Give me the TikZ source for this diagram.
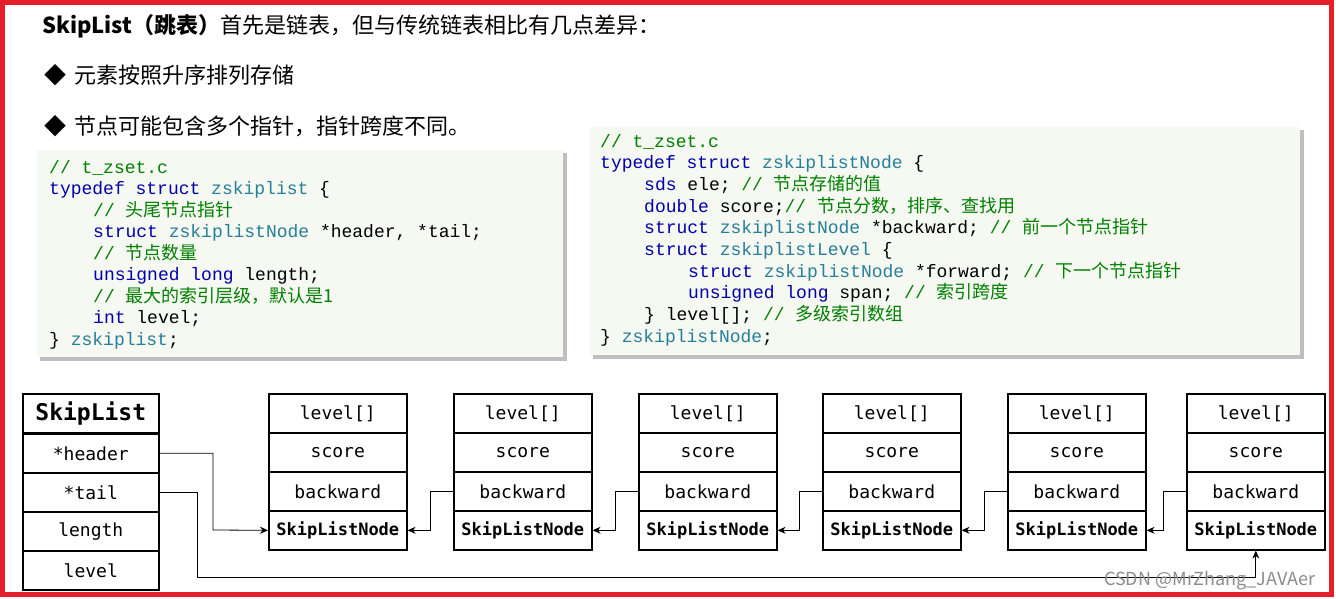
\documentclass[tikz,border=0pt]{standalone}
\usepackage{fontspec}
\usetikzlibrary{arrows.meta}
\setmainfont{Noto Sans CJK SC}
\newfontfamily\cjk{Noto Sans CJK SC}
\newfontfamily\mono{Liberation Mono}
\newfontfamily\boxmono{DejaVu Sans Mono}
\definecolor{kw}{RGB}{0,0,170}
\definecolor{ty}{RGB}{38,127,153}
\definecolor{cm}{RGB}{0,128,0}
\definecolor{codebg}{RGB}{246,248,242}
\definecolor{frame}{RGB}{230,30,40}
\newcommand\Kw[1]{\textcolor{kw}{#1}}
\newcommand\Ty[1]{\textcolor{ty}{#1}}
\newcommand\Cm[2]{\textcolor{cm}{#1{\cjk #2}}}
\begin{document}
\begin{tikzpicture}[x=1pt,y=-1pt,
  code/.style={anchor=base west,inner sep=0pt,font=\mono\fontsize{18}{20}\selectfont},
  cell/.style={draw,line width=1.6pt,minimum width=138pt,minimum height=39pt,inner sep=0pt,anchor=north west,font=\boxmono\fontsize{18}{20}\selectfont},
  link/.style={line width=0.8pt,-{Stealth[length=8pt,width=7pt]}}]
\useasboundingbox (0,0) rectangle (1336,598);
\fill[white] (0,0) rectangle (1336,598);
% header text
\node[anchor=base west,inner sep=0pt,font=\fontsize{22}{24}\selectfont] (title) at (42,33) {\textbf{SkipList（跳表）}首先是链表，但与传统链表相比有几点差异：};
\node[anchor=base west,inner sep=0pt,font=\fontsize{22}{24}\selectfont] (b1) at (44,83) {◆\hspace{8pt}元素按照升序排列存储};
\node[anchor=base west,inner sep=0pt,font=\fontsize{22}{24}\selectfont] (b2) at (44,134) {◆\hspace{8pt}节点可能包含多个指针，指针跨度不同。};
% code box 1
\fill[black!25] (40,153) rectangle (567,361);
\fill[codebg] (37,150) rectangle (563,357);
\node[code] (c1a) at (49,173) {\textcolor{cm}{// t\_zset.c}};
\node[code] (c1b) at (49,194.5) {\Kw{typedef struct} \Ty{zskiplist} \{};
\node[code] (c1c) at (93,216) {\Cm{// }{头尾节点指针}};
\node[code] (c1d) at (93,237.5) {\Kw{struct} \Ty{zskiplistNode} *header, *tail;};
\node[code] (c1e) at (93,259) {\Cm{// }{节点数量}};
\node[code] (c1f) at (93,280.5) {\Kw{unsigned long} length;};
\node[code] (c1g) at (93,302) {\Cm{// }{最大的索引层级，默认是1}};
\node[code] (c1h) at (93,323.5) {\Kw{int} level;};
\node[code] (c1i) at (49,345) {\} \Ty{zskiplist};};
% code box 2
\fill[black!25] (593,130) rectangle (1304,359);
\fill[codebg] (590,127) rectangle (1300,355);
\node[code] (c2a) at (600,147) {\textcolor{cm}{// t\_zset.c}};
\node[code] (c2b) at (600,168.7) {\Kw{typedef struct} \Ty{zskiplistNode} \{};
\node[code] (c2c) at (644,190.4) {\Kw{sds} ele; \Cm{// }{节点存储的值}};
\node[code] (c2d) at (644,212.1) {\Kw{double} score;\Cm{// }{节点分数，排序、查找用}};
\node[code] (c2e) at (644,233.8) {\Kw{struct} \Ty{zskiplistNode} *backward; \Cm{// }{前一个节点指针}};
\node[code] (c2f) at (644,255.5) {\Kw{struct} \Ty{zskiplistLevel} \{};
\node[code] (c2g) at (688,277.2) {\Kw{struct} \Ty{zskiplistNode} *forward; \Cm{// }{下一个节点指针}};
\node[code] (c2h) at (688,298.9) {\Kw{unsigned long} span; \Cm{// }{索引跨度}};
\node[code] (c2i) at (644,320.6) {\} level[]; \Cm{// }{多级索引数组}};
\node[code] (c2j) at (600,342.3) {\} \Ty{zskiplistNode};};
% SkipList struct
\node[cell,minimum width=136pt,font=\boxmono\bfseries\fontsize{23}{25}\selectfont] (sl) at (22,393) {SkipList};
\node[cell,minimum width=136pt] (slh) at (22,433) {*header};
\node[cell,minimum width=136pt] (slt) at (22,472) {*tail};
\node[cell,minimum width=136pt] (sll) at (22,511) {length};
\node[cell,minimum width=136pt] (slv) at (22,550) {level};
% nodes
\foreach \i/\x in {1/268,2/453,3/638,4/822,5/1007,6/1186}{
  \node[cell] (lv\i) at (\x,393) {level[]};
  \node[cell] (sc\i) at (\x,432) {score};
  \node[cell] (bw\i) at (\x,471) {backward};
  \node[cell,font=\boxmono\bfseries\fontsize{17}{19}\selectfont] (nd\i) at (\x,510) {SkipListNode};
}
% arrows
\draw[link] (slh.east) -| (213,530) -- (nd1.west);
\foreach \i/\j in {2/1,3/2,4/3,5/4,6/5}{
  \draw[link] (bw\i.west) -- ++(-23,0) |- (nd\j.east);
}
\draw[link] (slt.east) -| (197,577) -| (nd6.south);
% watermark
\node[anchor=base west,inner sep=0pt,text=black!45,font=\fontsize{18}{20}\selectfont] (wm) at (1104,585) {CSDN @MrZhang\_JAVAer};
% red frame
\draw[frame,line width=5pt] (2.5,2.5) rectangle (1331,594);
\end{tikzpicture}
\end{document}
